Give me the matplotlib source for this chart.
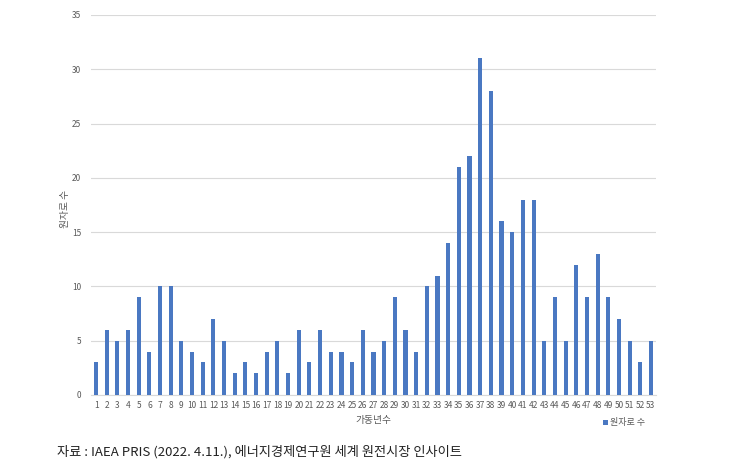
import matplotlib.pyplot as plt
import numpy as np

plt.rcParams['font.family'] = ['Noto Sans CJK KR', 'DejaVu Sans']

years = list(range(1, 54))
reactors = [3, 6, 5, 6, 9, 4, 10, 10, 5, 4, 3, 7, 5, 2, 3, 2, 4, 5, 2, 6,
            3, 6, 4, 4, 3, 6, 4, 5, 9, 6, 4, 10, 11, 14, 21, 22, 31, 28, 16, 15,
            18, 18, 5, 9, 5, 12, 9, 13, 9, 7, 5, 3, 5]
yticks = [0, 5, 10, 15, 20, 25, 30, 35]

BAR = '#4A78C2'
GRID = '#D9D9D9'
TXT = '#595959'

fig = plt.figure(figsize=(7.53, 4.74), dpi=100)
ax = fig.add_axes([0.1205, 0.1667, 0.751, 0.8017])

x = np.arange(len(years))
ax.bar(x, reactors, width=0.38, color=BAR, zorder=3, label='원자로 수')
ax.set_xlim(-0.5, len(years) - 0.5)
ax.set_ylim(0, 35)
ax.set_yticks(yticks)
ax.set_xticks(x)
ax.set_xticklabels([str(y) for y in years])
ax.tick_params(axis='both', length=0, labelsize=6, colors=TXT)
ax.tick_params(axis='x', pad=4)
ax.tick_params(axis='y', pad=7)
ax.grid(axis='y', color=GRID, lw=0.8, zorder=0)
for s in ('top', 'right', 'left'):
    ax.spines[s].set_visible(False)
ax.spines['bottom'].set_color(GRID)
ax.spines['bottom'].set_linewidth(0.8)

ax.set_ylabel('원자로 수', fontsize=7, color=TXT)
ax.yaxis.set_label_coords(-0.037, 0.49)
ax.set_xlabel('가동년수', fontsize=7, color=TXT, labelpad=4)

ax.legend(loc='upper right', bbox_to_anchor=(0.995, -0.04), frameon=False,
          fontsize=6.5, handlelength=0.5, handleheight=0.5, handletextpad=0.3,
          labelcolor=TXT)

fig.text(0.076, 0.046, '자료 : IAEA PRIS (2022. 4.11.), 에너지경제연구원 세계 원전시장 인사이트',
         fontsize=9.5, color='#222222', ha='left', va='center')

fig.savefig('out.png', dpi=100)
